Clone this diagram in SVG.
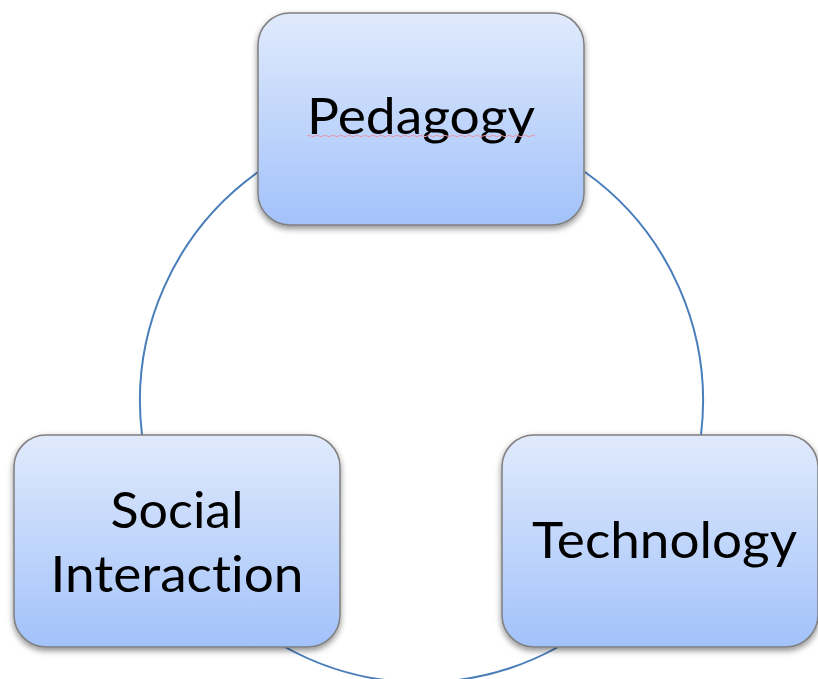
<svg xmlns="http://www.w3.org/2000/svg" width="818" height="679" viewBox="0 0 818 679">
<defs>
<linearGradient id="fill" x1="0" y1="0" x2="0" y2="1">
<stop offset="0" stop-color="#e0eafc"/>
<stop offset="1" stop-color="#a2c2fa"/>
</linearGradient>
<filter id="shadow" x="-10%" y="-10%" width="120%" height="125%">
<feGaussianBlur in="SourceAlpha" stdDeviation="3"/>
<feOffset dx="0" dy="3" result="b"/>
<feComponentTransfer><feFuncA type="linear" slope="0.45"/></feComponentTransfer>
<feMerge><feMergeNode/><feMergeNode in="SourceGraphic"/></feMerge>
</filter>
</defs>
<style>
.box{fill:url(#fill);stroke:#7f7f7f;stroke-width:1.5;filter:url(#shadow)}
.lbl{font-family:Lato,"Open Sans","Liberation Sans",sans-serif;font-size:50px;fill:#000;text-anchor:middle;font-variant-ligatures:none}
.arc{fill:none;stroke:#4a7ebb;stroke-width:2}
</style>
<rect width="818" height="679" fill="#ffffff"/>
<g id="connectors">
<path class="arc" d="M585,172 A281.5,281.5 0 0 1 701,435"/>
<path class="arc" d="M558,647 A281.5,281.5 0 0 1 285,647"/>
<path class="arc" d="M142,435 A281.5,281.5 0 0 1 258,172"/>
</g>
<g id="pedagogy">
<rect class="box" x="258" y="13" width="326" height="212" rx="32"/>
<text class="lbl" x="421" y="134" textLength="228" lengthAdjust="spacingAndGlyphs">Pedagogy</text>
<path d="M307,136 q2,-1.5 4,0 t4,0 t4,0 t4,0 t4,0 t4,0 t4,0 t4,0 t4,0 t4,0 t4,0 t4,0 t4,0 t4,0 t4,0 t4,0 t4,0 t4,0 t4,0 t4,0 t4,0 t4,0 t4,0 t4,0 t4,0 t4,0 t4,0 t4,0 t4,0 t4,0 t4,0 t4,0 t4,0 t4,0 t4,0 t4,0 t4,0 t4,0 t4,0 t4,0 t4,0 t4,0 t4,0 t4,0 t4,0 t4,0 t4,0 t4,0 t4,0 t4,0 t4,0 t4,0 t4,0 t4,0 t4,0 t4,0 t4,0" fill="none" stroke="#e89aaa" stroke-width="1"/>
</g>
<g id="social-interaction">
<rect class="box" x="14" y="435" width="326" height="212" rx="32"/>
<text class="lbl" x="177" y="528" textLength="133" lengthAdjust="spacingAndGlyphs">Social</text>
<text class="lbl" x="177" y="592" textLength="253" lengthAdjust="spacingAndGlyphs">Interaction</text>
</g>
<g id="technology">
<rect class="box" x="502" y="435" width="316" height="212" rx="32"/>
<text class="lbl" x="664.5" y="558" textLength="265" lengthAdjust="spacingAndGlyphs">Technology</text>
</g>
</svg>
